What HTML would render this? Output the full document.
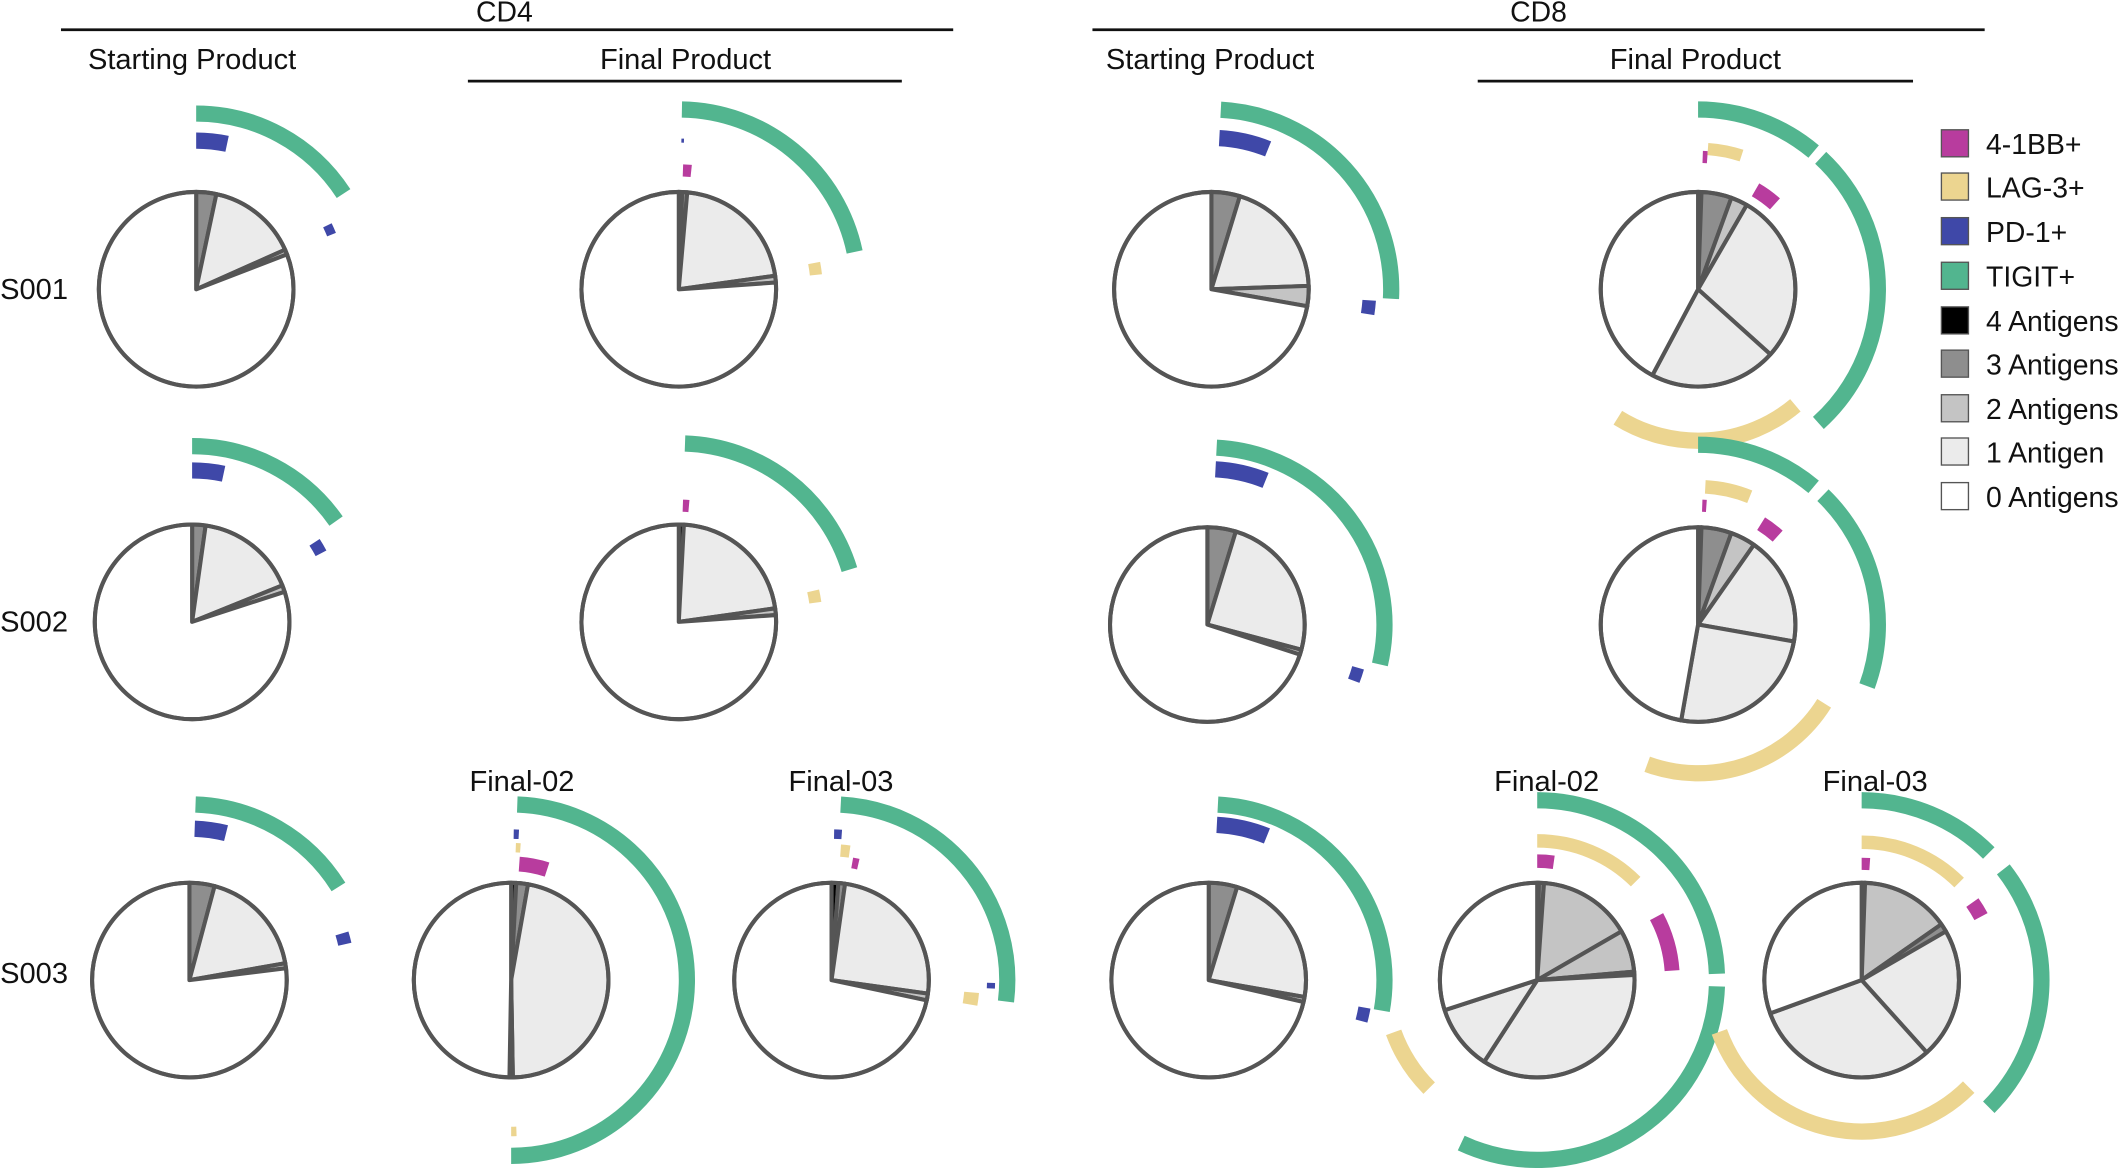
<!DOCTYPE html>
<html><head><meta charset="utf-8">
<style>
html,body{margin:0;padding:0;background:#fff;}
svg{display:block;}
text{font-family:"Liberation Sans",Arial,sans-serif;fill:#111;}
</style></head>
<body>
<svg id="s" width="2120" height="1168" viewBox="0 0 1568 864" xmlns="http://www.w3.org/2000/svg">
<g id="g"></g>
<text x="373" y="16" font-size="21" text-anchor="middle">CD4</text>
<line x1="45" y1="22" x2="705" y2="22" stroke="#111" stroke-width="2"/>
<text x="1138" y="16" font-size="21" text-anchor="middle">CD8</text>
<line x1="808" y1="22" x2="1468" y2="22" stroke="#111" stroke-width="2"/>
<text x="142" y="51" font-size="21.5" text-anchor="middle">Starting Product</text>
<text x="507" y="51" font-size="21.5" text-anchor="middle">Final Product</text>
<line x1="346" y1="60" x2="667" y2="60" stroke="#111" stroke-width="2"/>
<text x="895" y="51" font-size="21.5" text-anchor="middle">Starting Product</text>
<text x="1254" y="51" font-size="21.5" text-anchor="middle">Final Product</text>
<line x1="1093" y1="60" x2="1415" y2="60" stroke="#111" stroke-width="2"/>
<text x="0" y="221" font-size="21.5">S001</text>
<text x="0" y="467" font-size="21.5">S002</text>
<text x="0" y="727" font-size="21.5">S003</text>
<text x="386" y="585" font-size="21.5" text-anchor="middle">Final-02</text>
<text x="622" y="585" font-size="21.5" text-anchor="middle">Final-03</text>
<text x="1144" y="585" font-size="21.5" text-anchor="middle">Final-02</text>
<text x="1387" y="585" font-size="21.5" text-anchor="middle">Final-03</text>
<g font-size="21">
<rect x="1436" y="96" width="20" height="20" fill="#b83c9e" stroke="#555"/><text x="1469" y="114">4-1BB+</text>
<rect x="1436" y="128" width="20" height="20" fill="#ecd590" stroke="#555"/><text x="1469" y="146">LAG-3+</text>
<rect x="1436" y="161" width="20" height="20" fill="#3f48a8" stroke="#555"/><text x="1469" y="179">PD-1+</text>
<rect x="1436" y="194" width="20" height="20" fill="#52b58f" stroke="#555"/><text x="1469" y="212">TIGIT+</text>
<rect x="1436" y="227" width="20" height="20" fill="#000" stroke="#555"/><text x="1469" y="245">4 Antigens</text>
<rect x="1436" y="259" width="20" height="20" fill="#8e8e8e" stroke="#555"/><text x="1469" y="277">3 Antigens</text>
<rect x="1436" y="292" width="20" height="20" fill="#c4c4c4" stroke="#555"/><text x="1469" y="310">2 Antigens</text>
<rect x="1436" y="324" width="20" height="20" fill="#ebebeb" stroke="#555"/><text x="1469" y="342">1 Antigen</text>
<rect x="1436" y="357" width="20" height="20" fill="#fff" stroke="#555"/><text x="1469" y="375">0 Antigens</text>
</g>
</svg>
<script>
var G=document.getElementById('g'),NS='http://www.w3.org/2000/svg';
var C={k:'#000',d:'#8e8e8e',t:'#c4c4c4',o:'#ebebeb',w:'#fff',G:'#52b58f',B:'#3f48a8',L:'#ecd590',P:'#b83c9e'};
function pt(cx,cy,r,a){a=a*Math.PI/180;return [cx+r*Math.sin(a),cy-r*Math.cos(a)];}
function add(tag,at){var e=document.createElementNS(NS,tag);for(var k in at)e.setAttribute(k,at[k]);G.appendChild(e);}
function wedge(cx,cy,r,a0,a1,col){var p=pt(cx,cy,r,a0),q=pt(cx,cy,r,a1);
add('path',{d:'M'+cx+' '+cy+'L'+p[0]+' '+p[1]+'A'+r+' '+r+' 0 '+((a1-a0)>180?1:0)+' 1 '+q[0]+' '+q[1]+'Z',fill:C[col],stroke:'#555','stroke-width':3,'stroke-linejoin':'round'});}
function arc(cx,cy,r,w,a0,a1,col){var p=pt(cx,cy,r,a0),q=pt(cx,cy,r,a1);
add('path',{d:'M'+p[0]+' '+p[1]+'A'+r+' '+r+' 0 '+((a1-a0)>180?1:0)+' 1 '+q[0]+' '+q[1],fill:'none',stroke:C[col],'stroke-width':w});}
function pie(cx,cy,sl,arcs){var a=0;sl.forEach(function(s){wedge(cx,cy,72,a,s[1],s[0]);a=s[1];});
add('circle',{cx:cx,cy:cy,r:72,fill:'none',stroke:'#555','stroke-width':3});
arcs.forEach(function(x){arc(cx,cy,x[0],x[4]||12,x[1],x[2],x[3]);});}
pie(145,214,[['d',12],['o',66],['t',69],['w',360]],[[130,0,57,'G'],[110,0,12,'B'],[108,64,68,'B',7]]);
pie(502,214,[['k',2],['d',5],['o',82],['t',86],['w',360]],[[133,1,78,'G'],[102,79,84,'L',9],[88,2,6,'P',9],[110,1,2,'B',3]]);
pie(896,214,[['d',17],['o',88],['t',100],['w',360]],[[133,3,93,'G'],[112,3,22,'B'],[117,94,99,'B',10]]);
pie(1256,214,[['k',2],['d',20],['t',30],['o',132],['o',208],['w',360]],[[133,0,40,'G'],[133,43,138,'G'],[112,140,212,'L'],[98,2,4,'P',9],[104,4,18,'L',9],[85,30,42,'P',11]]);
pie(142,460,[['d',8],['o',68],['t',72],['w',360]],[[130,0,55,'G'],[112,0,12,'B'],[108,57,62,'B',9]]);
pie(502,460,[['k',3],['o',82],['t',86],['w',360]],[[132,2,73,'G'],[102,77,82,'L',9],[86,2,5,'P',9]]);
pie(893,462,[['d',17],['o',105],['t',108],['w',360]],[[131,3,103,'G'],[115,3,22,'B'],[116,106,111,'B',9]]);
pie(1256,462,[['k',2],['d',20],['t',35],['o',100],['o',190],['w',360]],[[133,0,40,'G'],[133,44,110,'G'],[110,122,200,'L'],[102,3,22,'L',10],[88,2,4,'P',9],[88,32,42,'P',11]]);
pie(140,725,[['d',15],['o',80],['t',83],['w',360]],[[130,2,58,'G'],[112,2,14,'B'],[118,73,77,'B',10]]);
pie(378,725,[['k',3],['d',10],['o',179],['t',181],['w',360]],[[130,2,180,'G'],[108,1,3,'B',7],[86,4,18,'P',11],[98,2,4,'L',7],[112,178,180,'L',7]]);
pie(615,725,[['k',4],['d',8],['o',98],['t',102],['w',360]],[[130,3,97,'G'],[104,95,100,'L',11],[118,91,93,'B',6],[108,1,4,'B',7],[96,4,8,'L',9],[88,10,13,'P',8]]);
pie(894,725,[['d',17],['o',100],['t',103],['w',360]],[[130,3,100,'G'],[115,3,22,'B'],[117,100,105,'B',9]]);
pie(1137,725,[['k',1],['d',4],['t',60],['t',85],['o',87],['o',213],['o',252],['w',360]],[[133,0,88,'G'],[133,92,205,'G'],[113,225,250,'L'],[103,0,45,'L',10],[88,0,8,'P',10],[100,62,86,'P',11]]);
pie(1377,725,[['k',2],['t',55],['d',60],['o',138],['o',250],['w',360]],[[133,0,45,'G'],[133,52,135,'G'],[112,135,250,'L'],[102,0,45,'L',10],[86,0,4,'P',9],[100,55,62,'P',11]]);
</script>
</body></html>
